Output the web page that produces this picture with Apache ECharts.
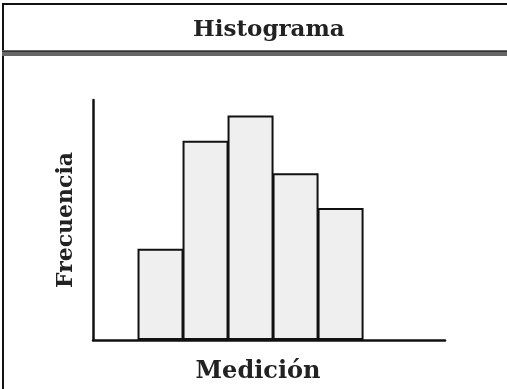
<!DOCTYPE html>
<html>
<head>
<meta charset="utf-8">
<script src="https://cdn.jsdelivr.net/npm/echarts@6/dist/echarts.min.js"></script>
<style>html,body{margin:0;padding:0;background:#fff;}#c{width:507px;height:389px;}</style>
</head>
<body>
<div id="c"></div>
<script>
const titleText = 'Histograma';
const xName = 'Medición';
const yName = 'Frecuencia';
const binCenters = [1.5, 2.5, 3.5, 4.5, 5.5];
const frequencies = [3.8, 8.3, 9.35, 6.95, 5.5];

const chart = echarts.init(document.getElementById('c'), null, {renderer: 'canvas'});
const serif = '"DejaVu Serif", "Liberation Serif", serif';
chart.setOption({
  backgroundColor: '#fff',
  animation: false,
  title: {
    text: titleText, left: 188, top: 14,
    textStyle: {fontFamily: serif, fontWeight: 'bold', fontSize: 23, color: '#222'}
  },
  graphic: [
    {type: 'rect', shape: {x: 2, y: 3, width: 507, height: 2}, style: {fill: '#111'}},
    {type: 'rect', shape: {x: 2, y: 3, width: 2, height: 389}, style: {fill: '#111'}},
    {type: 'rect', shape: {x: 2, y: 50, width: 507, height: 6}, style: {fill: '#666'}},
    {type: 'rect', shape: {x: 2, y: 51, width: 507, height: 1}, style: {fill: '#333'}}
  ],
  grid: {left: 93, top: 100, width: 352, height: 246, containLabel: false},
  xAxis: {
    type: 'value', min: 0, max: 7.82,
    name: xName, nameLocation: 'middle', nameGap: 20,
    nameTextStyle: {fontFamily: serif, fontWeight: 'bold', fontSize: 24, color: '#222', padding: [0, 22, 0, 0]},
    axisLine: {show: true, onZero: false, lineStyle: {color: '#111', width: 2.5}},
    axisTick: {show: false}, axisLabel: {show: false}, splitLine: {show: false}
  },
  yAxis: {
    type: 'value', min: 0, max: 10,
    name: yName, nameLocation: 'middle', nameGap: 16,
    nameTextStyle: {fontFamily: serif, fontWeight: 'bold', fontSize: 22, color: '#222'},
    axisLine: {show: true, lineStyle: {color: '#111', width: 2.5}},
    axisTick: {show: false}, axisLabel: {show: false}, splitLine: {show: false}
  },
  series: [{
    type: 'bar',
    data: binCenters.map((c, i) => [c, frequencies[i]]),
    barWidth: 46,
    itemStyle: {color: '#efefef', borderColor: '#111', borderWidth: 2}
  }]
});
</script>
</body>
</html>
